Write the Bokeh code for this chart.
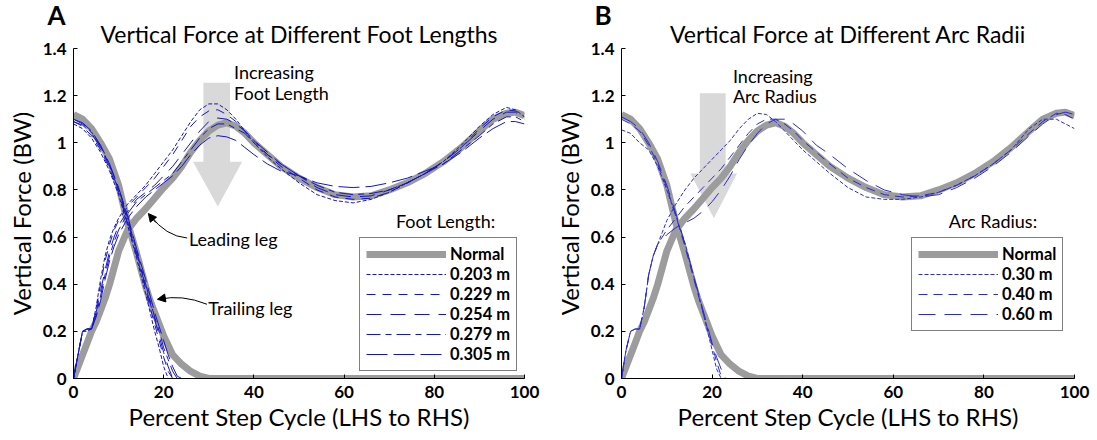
from bokeh.plotting import figure
from bokeh.layouts import row
from bokeh.models import (Range1d, FixedTicker, NumeralTickFormatter, Legend, LegendItem,
                          Label, Arrow, NormalHead, Title)
from bokeh.embed import file_html
from bokeh.resources import INLINE

FONT = "Lato"

# ---------------- data ----------------
LEAD_X = [0, 1, 2, 3, 4, 5, 6, 7, 8, 9, 10, 12, 14, 16, 18, 20, 22, 24, 26, 28, 30, 32, 34,
          36, 38, 40, 43, 46, 50, 54, 58, 62, 66, 70, 74, 78, 82, 86, 90, 93, 96, 98, 100]
TRAIL_X = [0, 2, 4, 6, 8, 10, 12, 14, 16, 17, 18, 19, 20, 21, 22, 23, 24, 26, 28, 30, 100]

NORMAL_LEAD = [0.0, 0.05, 0.10, 0.15, 0.20, 0.24, 0.29, 0.34, 0.40, 0.47, 0.54, 0.63, 0.68, 0.72,
               0.765, 0.81, 0.85, 0.90, 0.96, 1.01, 1.05, 1.075, 1.085, 1.07, 1.04, 1.00, 0.95,
               0.90, 0.85, 0.81, 0.78, 0.77, 0.775, 0.80, 0.83, 0.87, 0.92, 0.98, 1.05, 1.10,
               1.125, 1.13, 1.115]
NORMAL_TRAIL = [1.12, 1.10, 1.06, 1.00, 0.93, 0.82, 0.66, 0.53, 0.39, 0.33, 0.28, 0.23, 0.18,
                0.14, 0.10, 0.08, 0.06, 0.03, 0.01, 0.0, 0.0]

# Panel A: foot lengths
FOOT_LABELS = ["0.203 m", "0.229 m", "0.254 m", "0.279 m", "0.305 m"]
FOOT_LEAD_203 = [0.0, 0.10, 0.20, 0.20, 0.21, 0.30, 0.42, 0.52, 0.59, 0.64, 0.68, 0.74, 0.78,
                 0.82, 0.87, 0.92, 0.97, 1.03, 1.09, 1.14, 1.165, 1.165, 1.14, 1.10, 1.05, 1.00,
                 0.94, 0.89, 0.83, 0.78, 0.755, 0.745, 0.76, 0.79, 0.83, 0.87, 0.92, 0.99,
                 1.07, 1.12, 1.15, 1.14, 1.11]
FOOT_LEAD_229 = [0.0, 0.10, 0.20, 0.21, 0.21, 0.29, 0.40, 0.50, 0.57, 0.63, 0.67, 0.73, 0.77,
                 0.81, 0.85, 0.90, 0.95, 1.01, 1.07, 1.11, 1.135, 1.14, 1.12, 1.09, 1.05, 1.01,
                 0.95, 0.90, 0.85, 0.80, 0.77, 0.76, 0.765, 0.79, 0.83, 0.87, 0.92, 0.98, 1.06,
                 1.11, 1.14, 1.135, 1.11]
FOOT_LEAD_254 = [0.0, 0.10, 0.20, 0.21, 0.21, 0.28, 0.37, 0.46, 0.54, 0.60, 0.65, 0.71, 0.76,
                 0.79, 0.82, 0.86, 0.90, 0.95, 1.00, 1.05, 1.09, 1.105, 1.10, 1.08, 1.05, 1.01,
                 0.96, 0.91, 0.86, 0.81, 0.78, 0.77, 0.775, 0.80, 0.83, 0.87, 0.92, 0.98, 1.05,
                 1.10, 1.13, 1.13, 1.10]
FOOT_LEAD_279 = [0.0, 0.10, 0.20, 0.21, 0.21, 0.27, 0.35, 0.44, 0.52, 0.58, 0.63, 0.70, 0.75,
                 0.78, 0.81, 0.84, 0.87, 0.92, 0.97, 1.02, 1.06, 1.08, 1.08, 1.06, 1.04, 1.00,
                 0.95, 0.91, 0.86, 0.82, 0.79, 0.78, 0.785, 0.80, 0.83, 0.87, 0.91, 0.97, 1.03,
                 1.08, 1.11, 1.11, 1.09]
FOOT_LEAD_305 = [0.0, 0.10, 0.20, 0.21, 0.21, 0.26, 0.33, 0.42, 0.50, 0.56, 0.61, 0.68, 0.73,
                 0.77, 0.80, 0.83, 0.86, 0.90, 0.95, 0.99, 1.02, 1.03, 1.025, 1.01, 0.98, 0.95,
                 0.91, 0.88, 0.86, 0.83, 0.815, 0.81, 0.815, 0.83, 0.85, 0.88, 0.91, 0.96, 1.02,
                 1.06, 1.09, 1.09, 1.08]
FOOT_TRAIL_203 = [1.08, 1.06, 1.02, 0.96, 0.88, 0.78, 0.65, 0.51, 0.36, 0.28, 0.20, 0.13, 0.05,
                  0.0, 0.0, 0.0, 0.0, 0.0, 0.0, 0.0, 0.0]
FOOT_TRAIL_229 = [1.09, 1.07, 1.03, 0.97, 0.89, 0.79, 0.66, 0.52, 0.38, 0.30, 0.23, 0.16, 0.09,
                  0.03, 0.0, 0.0, 0.0, 0.0, 0.0, 0.0, 0.0]
FOOT_TRAIL_254 = [1.09, 1.075, 1.04, 0.98, 0.90, 0.80, 0.67, 0.53, 0.39, 0.32, 0.25, 0.18, 0.11,
                  0.05, 0.0, 0.0, 0.0, 0.0, 0.0, 0.0, 0.0]
FOOT_TRAIL_279 = [1.10, 1.08, 1.045, 0.985, 0.905, 0.805, 0.68, 0.54, 0.40, 0.33, 0.26, 0.20,
                  0.13, 0.08, 0.03, 0.0, 0.0, 0.0, 0.0, 0.0, 0.0]
FOOT_TRAIL_305 = [1.10, 1.085, 1.05, 0.99, 0.91, 0.81, 0.69, 0.55, 0.42, 0.35, 0.28, 0.22, 0.16,
                  0.10, 0.05, 0.01, 0.0, 0.0, 0.0, 0.0, 0.0]

# Panel B: arc radii
ARC_LABELS = ["0.30 m", "0.40 m", "0.60 m"]
ARC_LEAD_30 = [0.0, 0.12, 0.20, 0.21, 0.21, 0.30, 0.44, 0.52, 0.57, 0.62, 0.67, 0.74, 0.80,
               0.85, 0.89, 0.93, 0.97, 1.01, 1.06, 1.10, 1.125, 1.12, 1.09, 1.05, 1.01, 0.97,
               0.92, 0.87, 0.81, 0.77, 0.76, 0.76, 0.77, 0.79, 0.82, 0.86, 0.91, 0.97, 1.06,
               1.10, 1.10, 1.08, 1.06]
ARC_LEAD_40 = [0.0, 0.12, 0.20, 0.21, 0.21, 0.30, 0.44, 0.52, 0.57, 0.60, 0.63, 0.68, 0.73,
               0.77, 0.81, 0.85, 0.89, 0.94, 0.99, 1.04, 1.08, 1.10, 1.10, 1.08, 1.05, 1.01,
               0.96, 0.91, 0.85, 0.81, 0.78, 0.77, 0.775, 0.79, 0.82, 0.86, 0.91, 0.97, 1.04,
               1.09, 1.125, 1.12, 1.10]
ARC_LEAD_60 = [0.0, 0.12, 0.20, 0.21, 0.21, 0.30, 0.44, 0.52, 0.57, 0.59, 0.61, 0.64, 0.66,
               0.68, 0.71, 0.75, 0.80, 0.86, 0.93, 0.99, 1.04, 1.08, 1.10, 1.10, 1.08, 1.05,
               0.99, 0.95, 0.89, 0.84, 0.80, 0.78, 0.77, 0.78, 0.81, 0.85, 0.90, 0.96, 1.03,
               1.08, 1.12, 1.13, 1.12]
ARC_TRAIL_30 = [1.055, 1.04, 1.00, 0.97, 0.90, 0.80, 0.69, 0.575, 0.43, 0.36, 0.28, 0.20, 0.12,
                0.04, 0.0, 0.0, 0.0, 0.0, 0.0, 0.0, 0.0]
ARC_TRAIL_40 = [1.10, 1.08, 1.05, 0.99, 0.91, 0.81, 0.69, 0.56, 0.42, 0.35, 0.28, 0.21, 0.14,
                0.07, 0.01, 0.0, 0.0, 0.0, 0.0, 0.0, 0.0]
ARC_TRAIL_60 = [1.11, 1.09, 1.06, 1.00, 0.92, 0.82, 0.70, 0.57, 0.43, 0.36, 0.29, 0.22, 0.15,
                0.09, 0.04, 0.0, 0.0, 0.0, 0.0, 0.0, 0.0]

X_TICKS = [0, 20, 40, 60, 80, 100]
Y_TICKS = [0, 0.2, 0.4, 0.6, 0.8, 1.0, 1.2, 1.4]

# ---------------- styles ----------------
GRAY = "#9c9c9c"
BLUE = "#1414c8"
BLUE_B = "#2a2ad2"
ARROW_GRAY = "#d9d9d9"
FOOT_DASHES = ["4 2", "9 7", "15 9", "14 5 6 5", "21 6"]
ARC_DASHES = ["4 2", "9 6", "17 9"]


def make_panel(title, letter, letter_off, width, left, frame_w, labels, leads, trails, dashes,
               color, big_arrow, inc_text, legend_title, legend_title_pos, legend_loc,
               legend_spacing):
    p = figure(width=width, height=440, frame_width=frame_w, frame_height=330,
               min_border_left=left, min_border_right=width - left - frame_w,
               min_border_top=48, min_border_bottom=62,
               x_range=Range1d(0, 100), y_range=Range1d(0, 1.4),
               output_backend="svg", toolbar_location=None, title=None)
    # main title (closest to the frame) and the panel letter above it
    p.add_layout(Title(text=title, align="center", vertical_align="bottom", standoff=2,
                       text_font=FONT, text_font_size="23px", text_font_style="normal",
                       text_color="black"), "above")
    p.add_layout(Title(text=letter, align="left", vertical_align="bottom", offset=letter_off,
                       standoff=-28, text_font=FONT, text_font_size="26px",
                       text_font_style="bold", text_color="black"), "above")
    p.outline_line_color = None
    p.grid.visible = False
    p.background_fill_color = "white"
    p.border_fill_color = "white"

    for ax in (p.xaxis[0], p.yaxis[0]):
        ax.axis_line_color = "black"
        ax.axis_line_width = 1
        ax.major_tick_in = 4
        ax.major_tick_out = 0
        ax.minor_tick_line_color = None
        ax.major_label_text_font = FONT
        ax.major_label_text_font_size = "17px"
        ax.major_label_text_font_style = "bold"
        ax.axis_label_text_font = FONT
        ax.axis_label_text_font_style = "normal"
        ax.axis_label_text_color = "black"
        ax.major_label_text_color = "black"
    p.xaxis.ticker = FixedTicker(ticks=X_TICKS)
    p.yaxis.ticker = FixedTicker(ticks=Y_TICKS)
    p.yaxis.formatter = NumeralTickFormatter(format="0.[0]")
    p.xaxis.axis_label = "Percent Step Cycle (LHS to RHS)"
    p.yaxis.axis_label = "Vertical Force (BW)"
    p.xaxis.axis_label_text_font_size = "24px"
    p.yaxis.axis_label_text_font_size = "24px"
    p.xaxis.major_label_standoff = 7
    p.yaxis.major_label_standoff = 7
    p.xaxis.axis_label_standoff = 1
    p.yaxis.axis_label_standoff = 4

    # big light-gray arrow (behind curves)
    xs, ys = big_arrow
    p.patch(xs, ys, fill_color=ARROW_GRAY, line_color=None)

    # normal (thick gray)
    g1 = p.line(LEAD_X, NORMAL_LEAD, line_color=GRAY, line_width=7)
    p.line(TRAIL_X, NORMAL_TRAIL, line_color=GRAY, line_width=7)

    items = [LegendItem(label="Normal", renderers=[g1])]
    for lab, ld, tr, dash in zip(labels, leads, trails, dashes):
        r = p.line(LEAD_X, ld, line_color=color, line_width=1, line_dash=dash)
        p.line(TRAIL_X, tr, line_color=color, line_width=1, line_dash=dash)
        items.append(LegendItem(label=lab, renderers=[r]))

    leg = Legend(items=items, location=legend_loc, orientation="vertical",
                 border_line_color="black", border_line_width=1.5,
                 background_fill_color="white", background_fill_alpha=1,
                 label_text_font=FONT, label_text_font_size="16.5px",
                 label_text_font_style="bold", label_text_color="black",
                 glyph_width=80, glyph_height=20, label_height=20, label_standoff=4,
                 spacing=legend_spacing, padding=6, margin=0)
    p.add_layout(leg, "center")

    # texts
    (tx, ty1, ty2), (t1, t2) = inc_text
    for txt, yy in ((t1, ty1), (t2, ty2)):
        p.add_layout(Label(x=tx, y=yy, text=txt, text_font=FONT, text_font_size="18px",
                           text_align="left", text_baseline="middle", text_color="black"))
    lx, ly = legend_title_pos
    p.add_layout(Label(x=lx, y=ly, text=legend_title, text_font=FONT, text_font_size="18px",
                       text_align="center", text_baseline="middle", text_color="black"))
    return p


# Panel A
arrow_a = ([28.8, 34.7, 34.7, 37.4, 32.0, 26.5, 28.8],
           [1.255, 1.255, 0.92, 0.92, 0.73, 0.92, 0.92])
pa = make_panel("Vertical Force at Different Foot Lengths", "A", -26, 550, 73, 451,
                FOOT_LABELS,
                [FOOT_LEAD_203, FOOT_LEAD_229, FOOT_LEAD_254, FOOT_LEAD_279, FOOT_LEAD_305],
                [FOOT_TRAIL_203, FOOT_TRAIL_229, FOOT_TRAIL_254, FOOT_TRAIL_279, FOOT_TRAIL_305],
                FOOT_DASHES, BLUE, arrow_a,
                ((35.6, 1.30, 1.21), ("Increasing", "Foot Length")),
                "Foot Length:", (82.5, 0.668), (286, 7), 0)

# leading / trailing leg pointers (panel A)
pa.quadratic(x0=[25.2], y0=[0.596], x1=[17.0], y1=[0.693], cx=[20.4], cy=[0.604],
             line_color="black", line_width=1)
pa.add_layout(Arrow(end=NormalHead(size=8, fill_color="black", line_color="black"),
                    x_start=18.2, y_start=0.662, x_end=16.6, y_end=0.700,
                    line_color="black", line_width=1))
pa.add_layout(Label(x=25.6, y=0.59, text="Leading leg", text_font=FONT, text_font_size="18px",
                    text_align="left", text_baseline="middle", text_color="black"))
pa.quadratic(x0=[29.6], y0=[0.315], x1=[19.0], y1=[0.336], cx=[24.0], cy=[0.358],
             line_color="black", line_width=1)
pa.add_layout(Arrow(end=NormalHead(size=8, fill_color="black", line_color="black"),
                    x_start=20.5, y_start=0.342, x_end=18.6, y_end=0.336,
                    line_color="black", line_width=1))
pa.add_layout(Label(x=29.9, y=0.30, text="Trailing leg", text_font=FONT, text_font_size="18px",
                    text_align="left", text_baseline="middle", text_color="black"))

# Panel B
arrow_b = ([17.3, 23.0, 23.0, 25.5, 20.4, 15.2, 17.3],
           [1.21, 1.21, 0.87, 0.87, 0.68, 0.87, 0.87])
pb = make_panel("Vertical Force at Different Arc Radii", "B", -27, 547, 71, 453, ARC_LABELS,
                [ARC_LEAD_30, ARC_LEAD_40, ARC_LEAD_60],
                [ARC_TRAIL_30, ARC_TRAIL_40, ARC_TRAIL_60],
                ARC_DASHES, BLUE_B, arrow_b,
                ((24.6, 1.285, 1.20), ("Increasing", "Arc Radius")),
                "Arc Radius:", (82.0, 0.668), (290, 47), 0)

layout = row(pa, pb)
layout.spacing = 0
open("out.html", "w").write(file_html(layout, INLINE))
